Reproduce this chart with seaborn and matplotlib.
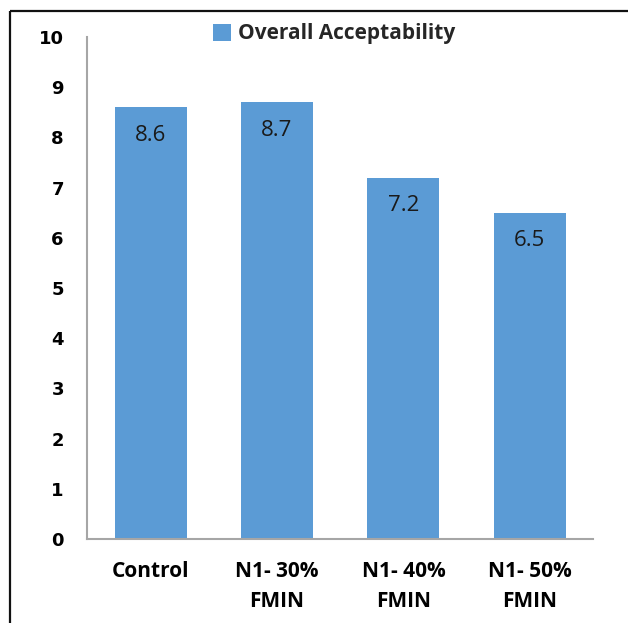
import matplotlib
matplotlib.use("Agg")
import matplotlib.pyplot as plt
from matplotlib.lines import Line2D
from matplotlib.patches import Patch
import seaborn as sns
import pandas as pd

categories = ["Control", "N1- 30%\nFMIN", "N1- 40%\nFMIN", "N1- 50%\nFMIN"]
scores = [8.6, 8.7, 7.2, 6.5]
series_name = "Overall Acceptability"
yticks = [0, 1, 2, 3, 4, 5, 6, 7, 8, 9, 10]

bar_color = "#5B9BD5"
axis_gray = "#A6A6A6"

sns.set_style("white")
plt.rcParams["font.family"] = ["Open Sans", "DejaVu Sans"]

df = pd.DataFrame({"category": categories, "score": scores})

fig = plt.figure(figsize=(6.28, 6.23), dpi=100)
ax = fig.add_axes([0.1393, 0.1348, 0.805, 0.8058])

sns.barplot(data=df, x="category", y="score", color=bar_color, width=0.57,
            saturation=1, ax=ax, edgecolor="none")

ax.set_ylim(0, 10)
ax.set_xlim(-0.5, len(categories) - 0.5)
ax.set_yticks(yticks)
ax.set_yticklabels([str(t) for t in yticks], fontfamily="DejaVu Sans",
                   fontweight="bold", fontsize=13, color="#000000")
ax.tick_params(axis="y", length=0, pad=17)
ax.tick_params(axis="x", length=0, pad=16)
for lbl in ax.get_xticklabels():
    lbl.set_fontweight("bold")
    lbl.set_fontsize(15)
    lbl.set_color("#000000")
    lbl.set_linespacing(1.55)
ax.set_xlabel("")
ax.set_ylabel("")

for side in ("top", "right"):
    ax.spines[side].set_visible(False)
for side in ("left", "bottom"):
    ax.spines[side].set_color(axis_gray)
    ax.spines[side].set_linewidth(1.5)

# value labels just inside the top of each bar
for bar, val in zip(ax.patches, scores):
    ax.annotate(f"{val:.1f}", xy=(bar.get_x() + bar.get_width() / 2, val),
                xytext=(0, -20), textcoords="offset points",
                ha="center", va="center", fontsize=16, color="#1a1a1a")

handle = Patch(facecolor=bar_color, edgecolor="none")
leg = fig.legend([handle], [series_name], loc="center left",
                 bbox_to_anchor=(213 / 628, 1 - 34 / 623), frameon=False,
                 handlelength=0.85, handleheight=0.85, handletextpad=0.35,
                 borderpad=0, borderaxespad=0, prop={"weight": "bold", "size": 15})

# outer frame along top and left edges
fig.add_artist(Line2D([10 / 628, 10 / 628], [0, 1 - 11 / 623],
                      transform=fig.transFigure, color="#111111", lw=1.6,
                      solid_capstyle="butt"))
fig.add_artist(Line2D([10 / 628, 1.01], [1 - 11 / 623, 1 - 11 / 623],
                      transform=fig.transFigure, color="#111111", lw=1.6,
                      solid_capstyle="butt"))

fig.savefig("out.png", dpi=100, facecolor="white")
